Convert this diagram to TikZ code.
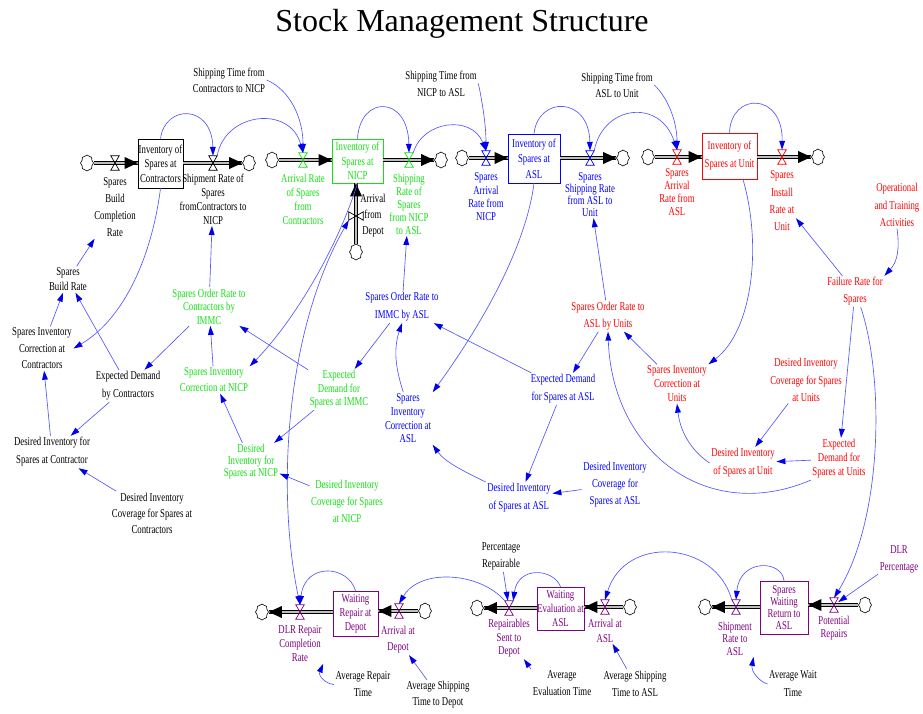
\documentclass[tikz,border=0pt]{standalone}
\usepackage{fontspec}
\setmainfont{Liberation Serif}
\newfontfamily\labfont{Liberation Serif}[FakeStretch=0.73]
\usetikzlibrary{arrows.meta,shapes.symbols}

\definecolor{vgreen}{RGB}{20,225,20}
\definecolor{vblue}{RGB}{0,0,255}
\definecolor{vred}{RGB}{255,0,0}
\definecolor{vpurple}{RGB}{128,0,128}
\definecolor{linkblue}{RGB}{85,85,255}
\definecolor{tipblue}{RGB}{0,0,235}
\definecolor{pipefill}{RGB}{190,190,190}

% rate valve on a horizontal pipe (hourglass) and on a vertical pipe (bow tie)
\newcommand\hvalve[3]{\node[valveh] (#1) at (#2) {};
  \draw[#3, line width=0.7pt] (#1.north west) -- (#1.north east) -- (#1.south west) -- (#1.south east) -- cycle;}
\newcommand\vvalve[3]{\node[valvev] (#1) at (#2) {};
  \draw[#3, line width=0.7pt] (#1.north west) -- (#1.south west) -- (#1.north east) -- (#1.south east) -- cycle;}

\begin{document}
\begin{tikzpicture}[x=1pt,y=-1pt,
  tipb/.tip={Triangle[length=9pt,width=6pt,line width=0pt,color=tipblue]},
  lab/.style={align=center, inner sep=1.5pt, font=\labfont\fontsize{12}{13.5}\selectfont},
  ls/.style={font=\labfont\fontsize{12}{#1}\selectfont},
  stock/.style={draw, fill=white, line width=0.7pt, inner sep=0pt, align=center, font=\labfont\fontsize{12}{14.5}\selectfont},
  stk/.style={draw=#1, text=#1},
  valveh/.style={minimum width=8pt, minimum height=14pt, inner sep=0pt},
  valvev/.style={minimum width=14pt, minimum height=8pt, inner sep=0pt},
  sink/.style={cloud, cloud puffs=8, cloud puff arc=120, aspect=0.8, draw, line width=0.6pt,
    minimum width=13pt, minimum height=16pt, inner sep=0pt},
  pipe/.style={draw=black, line width=0.7pt, double=pipefill, double distance=2.6pt},
  pipetip/.style={draw=pipefill, line width=2.6pt, -{Triangle[length=13pt,width=12pt,line width=0pt,color=black]}},
  link/.style={draw=linkblue, line width=0.65pt, -tipb},
]
\fill[white] (0,0) rectangle (923,713);
\useasboundingbox (0,0) rectangle (923,713);

\node[font=\fontsize{32}{36}\selectfont] (title) at (462,24) {Stock Management Structure};

% ---------- sources and sinks ----------
\node[sink] (cA) at (87,163) {};
\node[sink] (cB) at (249,163) {};
\node[sink] (cC) at (272,160) {};
\node[sink] (cD) at (441,160) {};
\node[sink] (cE) at (462,158) {};
\node[sink] (cF) at (623,158) {};
\node[sink] (cG) at (648,157) {};
\node[sink] (cH) at (818,157) {};
\node[sink] (cV) at (356,252) {};
\node[sink] (cI) at (262,612) {};
\node[sink] (cJ) at (425,611) {};
\node[sink] (cK) at (477,608) {};
\node[sink] (cL) at (630,607) {};
\node[sink] (cM) at (705,607) {};
\node[sink] (cN) at (865,605) {};

% ---------- stocks ----------
\node[stock, minimum width=45pt, minimum height=49pt] (stC) at (160.5,163.5) {Inventory of\\Spares at\\Contractors};
\node[stock, stk=vgreen, minimum width=51pt, minimum height=44pt] (stN) at (357.5,161) {Inventory of\\Spares at\\NICP};
\node[stock, stk=vblue, minimum width=52pt, minimum height=49pt, font=\labfont\fontsize{12}{15.5}\selectfont] (stA) at (534,158.5) {Inventory of\\Spares at\\ASL};
\node[stock, stk=vred, minimum width=55pt, minimum height=46pt, font=\labfont\fontsize{12}{18}\selectfont] (stU) at (729.5,156) {Inventory of\\Spares at Unit};
\node[stock, stk=vpurple, minimum width=45pt, minimum height=45pt, font=\labfont\fontsize{12}{14}\selectfont] (stWR) at (355.5,613.5) {Waiting\\Repair at\\Depot};
\node[stock, stk=vpurple, minimum width=47pt, minimum height=43pt, font=\labfont\fontsize{12}{14}\selectfont] (stWE) at (560.5,608.5) {Waiting\\Evaluation at\\ASL};
\node[stock, stk=vpurple, minimum width=48pt, minimum height=53pt, font=\labfont\fontsize{12}{12}\selectfont] (stSW) at (784,607.5) {Spares\\Waiting\\Return to\\ASL};

% ---------- pipes ----------
\foreach \a/\b in {cA/stC, cC/stN, cE/stA, cG/stU} {
  \draw[pipe] (\a.east) -- (\a -| \b.west);
  \draw[pipetip] (\a.east) -- (\a -| \b.west);
}
\foreach \a/\b in {stC/cB, stN/cD, stA/cF, stU/cH} {
  \draw[pipe] (\a.east |- \b) -- (\b.west);
  \draw[pipetip] (\a.east |- \b) -- (\b.west);
}
\foreach \a/\b in {stWR/cI, stWE/cK, stSW/cM} {
  \draw[pipe] (\a.west |- \b) -- (\b.east);
  \draw[pipetip] (\a.west |- \b) -- (\b.east);
}
\foreach \a/\b in {cJ/stWR, cL/stWE, cN/stSW} {
  \draw[pipe] (\a.west) -- (\a -| \b.east);
  \draw[pipetip] (\a.west) -- (\a -| \b.east);
}
\draw[pipe] (cV.north) -- (cV |- stN.south);
\draw[pipetip] (cV.north) -- (cV |- stN.south);

% ---------- valves ----------
\hvalve{vSBC}{115,163}{black}
\hvalve{vSRC}{213,163}{black}
\hvalve{vARC}{303,160}{vgreen}
\vvalve{vAFD}{356,216}{black}
\hvalve{vSRN}{409,160}{vgreen}
\hvalve{vSARN}{486,158}{vblue}
\hvalve{vSSRA}{590,158}{vblue}
\hvalve{vSARA}{677,157}{vred}
\hvalve{vSIRU}{782,157}{vred}
\hvalve{vDLR}{300,612}{vpurple}
\hvalve{vARD}{399,611}{vpurple}
\hvalve{vRSD}{509,608}{vpurple}
\hvalve{vAAA}{605,607}{vpurple}
\hvalve{vSRA}{736,607}{vpurple}
\hvalve{vPR}{834,605}{vpurple}

% ---------- variables: upper chain ----------
\node[lab, ls=16] (lSTCN) at (229,80) {Shipping Time from\\Contractors to NICP};
\node[lab, ls=17] (lSTNA) at (441,83.5) {Shipping Time from\\NICP to ASL};
\node[lab, ls=16] (lSTAU) at (617,85) {Shipping Time from\\ASL to Unit};
\node[lab, ls=17] (lSBC) at (115,207.5) {Spares\\Build\\Completion\\Rate};
\node[lab, ls=14] (lSRC) at (213,199) {Shipment Rate of\\Spares\\fromContractors to\\NICP};
\node[lab, ls=14, vgreen] (lARC) at (303,199) {Arrival Rate\\of Spares\\from\\Contractors};
\node[lab, ls=16] (lAFD) at (373,216) {Arrival\\from\\Depot};
\node[lab, ls=13, vgreen] (lSRN) at (409,204) {Shipping\\Rate of\\Spares\\from NICP\\to ASL};
\node[lab, ls=13.3, vblue] (lSARN) at (486,197) {Spares\\Arrival\\Rate from\\NICP};
\node[lab, ls=12, vblue] (lSSRA) at (590,194.5) {Spares\\Shipping Rate\\from ASL to\\Unit};
\node[lab, ls=13, vred] (lSARA) at (677,192.5) {Spares\\Arrival\\Rate from\\ASL};
\node[lab, ls=17.3, vred] (lSIRU) at (782,201) {Spares\\Install\\Rate at\\Unit};
\node[lab, ls=17.7, vred] (lOTA) at (897,205) {Operational\\and Training\\Activities};
\node[lab, ls=17, vred] (lFRS) at (855,291.5) {Failure Rate for\\Spares};

% ---------- contractors and NICP ----------
\node[lab, ls=15] (lSBR) at (68,279.5) {Spares\\Build Rate};
\node[lab, ls=16.5] (lSICC) at (42,348.5) {Spares Inventory\\Correction at\\Contractors};
\node[lab, ls=18] (lEDC) at (128,386) {Expected Demand\\by Contractors};
\node[lab, ls=18] (lDIC) at (52,452) {Desired Inventory for\\Spares at Contractor};
\node[lab, ls=16] (lDICC) at (152,513) {Desired Inventory\\Coverage for Spares at\\Contractors};
\node[lab, ls=13.5, vgreen] (lSORC) at (209,306.5) {Spares Order Rate to\\Contractors by\\IMMC};
\node[lab, ls=16, vgreen] (lSICN) at (214,380) {Spares Inventory\\Correction at NICP};
\node[lab, ls=13.5, vgreen] (lEDI) at (339,389.5) {Expected\\Demand for\\Spares at IMMC};
\node[lab, ls=12, vgreen] (lDIN) at (251,462) {Desired\\Inventory for\\Spares at NICP};
\node[lab, ls=17, vgreen] (lDICN) at (347,501) {Desired Inventory\\Coverage for Spares\\at NICP};

% ---------- ASL ----------
\node[lab, ls=18, vblue] (lSORI) at (402,307) {Spares Order Rate to\\IMMC by ASL};
\node[lab, ls=13.7, vblue] (lSICA) at (408,418.5) {Spares\\Inventory\\Correction at\\ASL};
\node[lab, ls=18, vblue] (lEDA) at (563,389) {Expected Demand\\for Spares at ASL};
\node[lab, ls=18, vblue] (lDIA) at (519,498) {Desired Inventory\\of Spares at ASL};
\node[lab, ls=17, vblue] (lDICA) at (615,485) {Desired Inventory\\Coverage for\\Spares at ASL};

% ---------- units ----------
\node[lab, ls=17, vred] (lSORU) at (608,316) {Spares Order Rate to\\ASL by Units};
\node[lab, ls=14, vred] (lSICU) at (677,384) {Spares Inventory\\Correction at\\Units};
\node[lab, ls=17.5, vred] (lDICU) at (806,380) {Desired Inventory\\Coverage for Spares\\at Units};
\node[lab, ls=18, vred] (lDIU) at (743,463) {Desired Inventory\\of Spares at Unit};
\node[lab, ls=14, vred] (lEDU) at (839,459) {Expected\\Demand for\\Spares at Units};

% ---------- repair chain ----------
\node[lab, ls=14, vpurple] (lDLR) at (300,644) {DLR Repair\\Completion\\Rate};
\node[lab, ls=16, vpurple] (lARD) at (398,640) {Arrival at\\Depot};
\node[lab, ls=13.5, vpurple] (lRSD) at (509,638.5) {Repairables\\Sent to\\Depot};
\node[lab, ls=15, vpurple] (lAAA) at (605,630.5) {Arrival at\\ASL};
\node[lab, ls=12.5, vpurple] (lSRA) at (735,638.5) {Shipment\\Rate to\\ASL};
\node[lab, ls=13, vpurple] (lPR) at (834,628.5) {Potential\\Repairs};
\node[lab, ls=17] (lPctR) at (501,556.5) {Percentage\\Repairable};
\node[lab, ls=17, vpurple] (lDLRP) at (899,559.5) {DLR\\Percentage};
\node[lab, ls=17] (lART) at (363,684.5) {Average Repair\\Time};
\node[lab, ls=16] (lASTD) at (438,695) {Average Shipping\\Time to Depot};
\node[lab, ls=17] (lAET) at (562,683.5) {Average\\Evaluation Time};
\node[lab, ls=17] (lASTA) at (635,683.5) {Average Shipping\\Time to ASL};
\node[lab, ls=18] (lAWT) at (793,684) {Average Wait\\Time};

% ---------- links: upper chain ----------
\draw[link] (stC.north) .. controls (165,104) and (212,104) .. (vSRC.north);
\draw[link] (vSRC.north east) .. controls (225,112) and (290,105) .. (vARC.north);
\draw[link] (lSTCN.east) .. controls (290,90) and (303,118) .. (vARC.north);
\draw[link] (stN.north) .. controls (360,95) and (408,95) .. (vSRN.north);
\draw[link] (vSRN.north east) .. controls (423,120) and (472,115) .. (vSARN.north);
\draw[link] (lSTNA.east) .. controls (482,100) and (486,125) .. (vSARN.north);
\draw[link] (stA.north) .. controls (538,96) and (589,96) .. (vSSRA.north);
\draw[link] (vSSRA.north east) .. controls (603,105) and (660,98) .. (vSARA.north);
\draw[link] (lSTAU.east) .. controls (670,100) and (677,125) .. (vSARA.north);
\draw[link] (stU.north) .. controls (731,92) and (783,92) .. (vSIRU.north);

% ---------- links: contractors and NICP ----------
\draw[link] (stC.south) .. controls (152,255) and (125,318) .. (lSICC.east);
\draw[link] (lSBR) -- (lSBC);
\draw[link] (lSICC) -- (lSBR);
\draw[link] (lEDC) -- (lSBR);
\draw[link] (lDIC) -- (lSICC);
\draw[link] (lEDC) -- (lDIC);
\draw[link] (lDICC) -- (lDIC);
\draw[link] (lSORC) -- (lSRC);
\draw[link] (lSORC) -- (lEDC);
\draw[link] (lSICN) -- (lSORC);
\draw[link] (lEDI) -- (lSORC);
\draw[link] (stN.south) .. controls (335,255) and (290,325) .. (lSICN.north east);
\draw[link, tipb-tipb] (vDLR.north) .. controls (276,490) and (286,330) .. (vAFD.south west);
\draw[link] (lEDI) -- (lDIN);
\draw[link] (lDICN) -- (lDIN);
\draw[link] (lDIN) -- (lSICN);

% ---------- links: ASL ----------
\draw[link] (lSORI) -- (lSRN);
\draw[link] (lSORI) -- (lEDI);
\draw[link] (lSICA.100) .. controls (396,370) and (393,350) .. (lSORI.south);
\draw[link] (stA.south) .. controls (526,245) and (485,320) .. (lSICA.north east);
\draw[link] (lEDA) -- (lSORI);
\draw[link] (lEDA) -- (lDIA);
\draw[link] (lDIA.north west) .. controls (465,472) and (445,462) .. (lSICA.south east);
\draw[link] (lDICA) -- (lDIA);

% ---------- links: units ----------
\draw[link] (lSORU) -- (lSSRA);
\draw[link] (lSORU) -- (lEDA);
\draw[link] (lSICU) -- (lSORU);
\draw[link] (stU.-60) .. controls (762,245) and (753,330) .. (lSICU.north east);
\draw[link] (lDICU) -- (lDIU);
\draw[link] (lDIU.west) .. controls (690,450) and (680,430) .. (lSICU.south);
\draw[link] (lEDU) -- (lDIU);
\draw[link] (lEDU.south west) .. controls (705,525) and (612,450) .. (lSORU.south);
\draw[link] (lFRS) -- (lEDU);
\draw[link] (lFRS) -- (lSIRU);
\draw[link] (lOTA.south) .. controls (900,250) and (897,262) .. (lFRS.north east);
\draw[link] (lFRS.-70) .. controls (885,380) and (882,520) .. (vPR.north);
\draw[link] (lDLRP) -- (vPR);

% ---------- links: repair chain ----------
\draw[link] (stWR.north) .. controls (348,565) and (305,562) .. (vDLR.north);
\draw[link] (vRSD.north west) .. controls (480,572) and (420,568) .. (vARD.north);
\draw[link] (stWE.north) .. controls (553,568) and (518,566) .. (vRSD.north east);
\draw[link] (lPctR) -- (vRSD);
\draw[link] (lAET.north west) -- (lRSD);
\draw[link] (lASTA) -- (lAAA);
\draw[link] (lASTD) -- (lARD);
\draw[link] (lART.west) .. controls (326,684) and (318,676) .. (lDLR.south east);
\draw[link] (lAWT.west) .. controls (760,682) and (751,672) .. (lSRA.south east);
\draw[link] (stSW.north) .. controls (782,560) and (740,558) .. (vSRA.north);
\draw[link] (vSRA.north west) .. controls (715,540) and (625,535) .. (vAAA.north);
\end{tikzpicture}
\end{document}
